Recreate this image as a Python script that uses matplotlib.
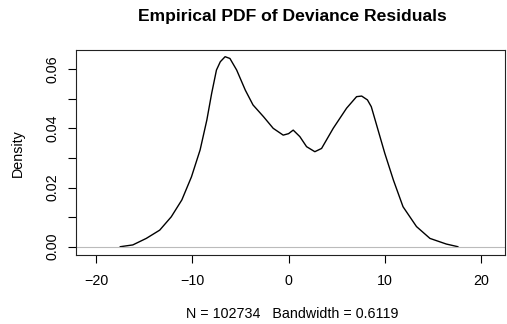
import numpy as np
import matplotlib
matplotlib.use("Agg")
import matplotlib.pyplot as plt

plt.rcParams['font.family'] = ['Liberation Sans', 'DejaVu Sans']

# density curve
resid_x = [-17.5, -16.2, -14.8, -13.4, -12.2, -11.1, -10.1, -9.2, -8.5, -8.0,
           -7.5, -7.1, -6.6, -6.1, -5.4, -4.5, -3.7, -2.6, -1.6, -0.56,
           0.0, 0.48, 1.17, 1.87, 2.73, 3.43, 4.64, 6.03, 7.07, 7.6, 8.2,
           8.6, 9.1, 10.0, 10.9, 11.9, 13.3, 14.7, 16.4, 17.6]
density = [0.0, 0.0006, 0.0028, 0.0056, 0.0101, 0.0158, 0.0236, 0.0327, 0.0428, 0.0518,
           0.0597, 0.0625, 0.0642, 0.0636, 0.0597, 0.0529, 0.0479, 0.0439, 0.0400, 0.0377,
           0.0382, 0.0394, 0.0372, 0.0338, 0.0321, 0.0332, 0.0400, 0.0468, 0.0507, 0.0509, 0.0496,
           0.0473, 0.0417, 0.0316, 0.0225, 0.0135, 0.0068, 0.0028, 0.0009, 0.0]

x_ticks = [-20, -10, 0, 10, 20]
y_ticks = [0.0, 0.01, 0.02, 0.03, 0.04, 0.05, 0.06]
y_labels = ['0.00', '', '0.02', '', '0.04', '', '0.06']

fig = plt.figure(figsize=(5.07, 3.24), dpi=100)
ax = fig.add_axes([0.150, 0.213, 0.846, 0.633])

ax.plot(resid_x, density, color='black', lw=1.0)
ax.axhline(0, color='#bbbbbb', lw=0.8)

ax.set_xlim(-22.1, 22.5)
ax.set_ylim(-0.0028, 0.0665)
ax.set_xticks(x_ticks)
ax.set_yticks(y_ticks)
ax.set_yticklabels(y_labels, rotation=90, va='center')

ax.tick_params(length=6, width=0.8, labelsize=10.3)
ax.tick_params(axis='x', pad=8)
ax.tick_params(axis='y', pad=6)
for s in ax.spines.values():
    s.set_color('#222222')
    s.set_linewidth(0.8)

fig.text(0.576, 0.948, 'Empirical PDF of Deviance Residuals', ha='center', va='center',
         fontsize=12.6, fontweight='bold')
fig.text(0.576, 0.031, 'N = 102734   Bandwidth = 0.6119', ha='center', va='center', fontsize=10.3)
fig.text(0.035, 0.528, 'Density', ha='center', va='center', rotation=90, fontsize=10.3)

fig.savefig('out.png', dpi=100)
